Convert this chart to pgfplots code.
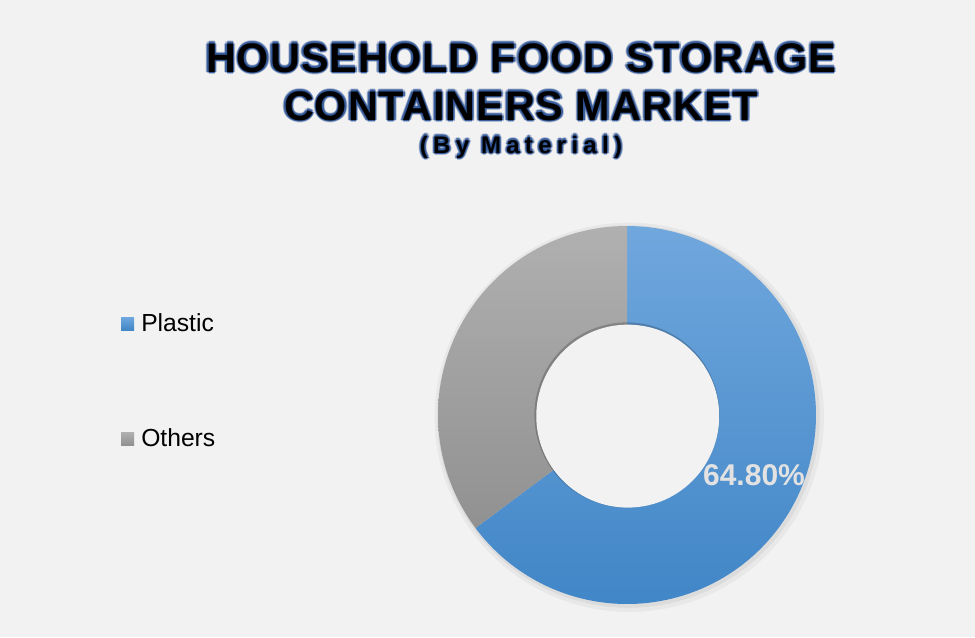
\documentclass[border=0pt]{standalone}
\usepackage{pgfplots}
\pgfplotsset{compat=1.18}
\usepackage{fontspec}
\setmainfont{Liberation Sans}

\definecolor{bg}{HTML}{F2F2F2}
\definecolor{navyglow}{HTML}{2F5597}
\definecolor{blueTop}{HTML}{70A7DD}
\definecolor{blueBot}{HTML}{4186C7}
\definecolor{grayTop}{HTML}{B0B0B0}
\definecolor{grayBot}{HTML}{919191}
\definecolor{lbl}{HTML}{E2E2E2}

% shares in percent
\def\plastic{64.8}
\def\others{35.2}

% black title text with a navy glow round it
\newcommand{\glow}[3]{%
  \foreach \dx/\dy in {-1.7/0,1.7/0,0/-1.7,0/1.7,-1.2/-1.2,1.2/1.2,-1.2/1.2,1.2/-1.2}{
    \node[text=navyglow, opacity=0.35, inner sep=0, anchor=base, font=#2,
          xshift=\dx pt, yshift=\dy pt] at (#1) {#3};}
  \foreach \dx/\dy in {-0.9/0,0.9/0,0/-0.9,0/0.9}{
    \node[text=navyglow, opacity=0.8, inner sep=0, anchor=base, font=#2,
          xshift=\dx pt, yshift=\dy pt] at (#1) {#3};}
  \node[text=black, inner sep=0, anchor=base, font=#2] at (#1) {#3};}

\begin{document}
\begin{tikzpicture}[x=0.75pt, y=-0.75pt]
\fill[bg] (0,0) rectangle (975,637);

% title
\glow{521,72}{\fontsize{31pt}{31pt}\selectfont\bfseries\addfontfeatures{LetterSpace=2.5}}{HOUSEHOLD FOOD STORAGE}
\glow{521,120}{\fontsize{31pt}{31pt}\selectfont\bfseries\addfontfeatures{LetterSpace=2.5}}{CONTAINERS MARKET}
\glow{521,153}{\fontsize{18pt}{18pt}\selectfont\bfseries\addfontfeatures{LetterSpace=22}}{(By Material)}

% legend
\fill[top color=blueTop, bottom color=blueBot] (121,317) rectangle (134,330);
\node[anchor=base west, inner sep=0, font=\fontsize{18.5pt}{18.5pt}\selectfont] at (141,331) {Plastic};
\fill[top color=grayTop, bottom color=grayBot] (121,432) rectangle (134,445);
\node[anchor=base west, inner sep=0, font=\fontsize{18.5pt}{18.5pt}\selectfont] at (141,446) {Others};

\pgfmathsetmacro\aend{90-3.6*\plastic}
\begin{axis}[
    at={(470.25pt,-311.25pt)}, anchor=origin,
    x=141.75pt, y=141.75pt,
    xmin=-1.05, xmax=1.05, ymin=-1.05, ymax=1.05,
    hide axis, clip=false,
    ]
  % soft shadow behind the ring
  \addplot[draw=none, fill=black, opacity=0.04, domain=0:360, samples=160, variable=\t]
    ({0.012+1.03*cos(t)}, {-0.012+1.03*sin(t)}) -- cycle;
  \addplot[draw=none, fill=black, opacity=0.05, domain=0:360, samples=160, variable=\t]
    ({0.008+1.012*cos(t)}, {-0.008+1.012*sin(t)}) -- cycle;
  % Plastic
  \addplot[draw=none, top color=blueTop, bottom color=blueBot,
           domain=\aend:90, samples=200, variable=\t]
    ({cos(t)}, {sin(t)}) -- (axis cs:0,0) -- cycle;
  % Others
  \addplot[draw=none, top color=grayTop, bottom color=grayBot,
           domain=90:\aend+360, samples=120, variable=\t]
    ({cos(t)}, {sin(t)}) -- (axis cs:0,0) -- cycle;
  % hole, with a faint inner shadow
  \addplot[draw=none, fill=black, opacity=0.2, domain=0:360, samples=160, variable=\t]
    ({0.49*cos(t)}, {0.49*sin(t)}) -- cycle;
  \addplot[draw=none, fill=bg, domain=0:360, samples=160, variable=\t]
    ({0.004+0.484*cos(t)}, {-0.006+0.484*sin(t)}) -- cycle;
\end{axis}

\node[anchor=base, inner sep=0, text=lbl, font=\fontsize{22.5pt}{22.5pt}\selectfont\bfseries] at (754,485) {64.80\%};
\end{tikzpicture}
\end{document}
